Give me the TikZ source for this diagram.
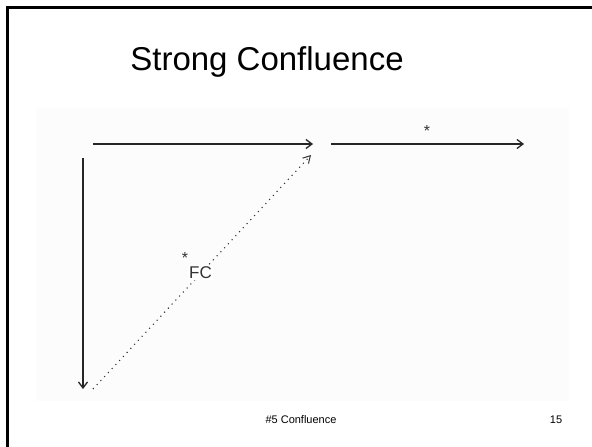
\documentclass[tikz,border=0pt]{standalone}
\usepackage{fontspec}
\setmainfont{Liberation Sans}
\usepackage{tikz}
\usetikzlibrary{arrows.meta, positioning}

\begin{document}
\begin{tikzpicture}[
  x=1pt, y=-1pt,
  >={Straight Barb[length=6pt, width=9pt]},
  arr/.style={->, line width=1.3pt, draw=black!85},
  darr/.style={-{Straight Barb[length=7pt, width=8pt, line width=1pt]},
               line width=1.1pt, draw=black!80, dash pattern=on 1.1pt off 4.4pt},
  lbl/.style={inner sep=0pt, text=black!80},
]

% ============ FRAME ============
\useasboundingbox (0,0) rectangle (592,447);
\fill[black!1] (36,108) rectangle (569,401);
\draw[line width=2.4pt] (7.5,447) -- (7.5,7.5) -- (592,7.5);

% ============ TEXT ============
\node[font=\fontsize{33}{36}\selectfont] (title) at (267,62) {Strong Confluence};
\node[font=\fontsize{11}{13}\selectfont] (foot) at (301,420) {\#5 Confluence};
\node[font=\fontsize{11}{13}\selectfont] (page) at (556,420) {15};

% ============ POINTS ============
\coordinate (topA)  at (93,144);
\coordinate (topB)  at (313,144);
\coordinate (rgtA)  at (331,144);
\coordinate (rgtB)  at (524,144);
\coordinate (lftA)  at (83,158);
\coordinate (lftB)  at (83,389);
\coordinate (dotA)  at (93,389);
\coordinate (dotB)  at (311,155);

% ============ ARROWS ============
\draw[arr] (topA) -- (topB);
\draw[arr] (rgtA) -- (rgtB);
\draw[arr] (lftA) -- (lftB);
\draw[darr] (dotA) -- (dotB);

% ============ LABELS ============
\node[lbl, font=\fontsize{16}{16}\selectfont] (star) at (427,131) {*};
\node[lbl, font=\fontsize{16}{16}\selectfont] (fcstar) at (185,258) {*};
\node[lbl, font=\fontsize{17}{17}\selectfont, anchor=west, fill=white,
      inner sep=1pt] (fc) at (188,273) {FC};

\end{tikzpicture}
\end{document}
